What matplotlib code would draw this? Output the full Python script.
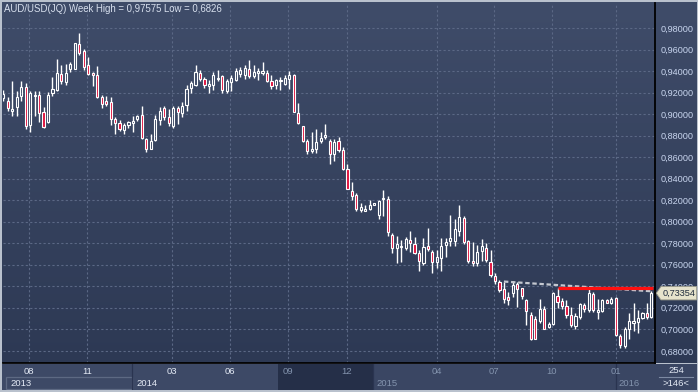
import numpy as np
import matplotlib.pyplot as plt
from matplotlib.patches import Rectangle, Polygon

# weekly AUD/USD candles
opens = [0.9150, 0.9126, 0.9032, 0.9070, 0.9169, 0.9251, 0.8898, 0.9166, 0.9182, 0.9023,
         0.8923, 0.9194, 0.9229, 0.9369, 0.9297, 0.9422, 0.9422, 0.9656, 0.9584, 0.9453,
         0.9382, 0.9366, 0.9163, 0.9126, 0.9116, 0.8954, 0.8914, 0.8851, 0.8898, 0.8914,
         0.8951, 0.8992, 0.8767, 0.8680, 0.8758, 0.8945, 0.9057, 0.8975, 0.8887, 0.9055,
         0.9011, 0.9086, 0.9242, 0.9273, 0.9386, 0.9323, 0.9261, 0.9267, 0.9323, 0.9355,
         0.9220, 0.9298, 0.9320, 0.9376, 0.9361, 0.9423, 0.9355, 0.9386, 0.9386, 0.9386,
         0.9305, 0.9267, 0.9305, 0.9283, 0.9323, 0.9361, 0.9011, 0.8893, 0.8752, 0.8659,
         0.8674, 0.8752, 0.8784, 0.8752, 0.8634, 0.8752, 0.8665, 0.8487, 0.8290, 0.8247,
         0.8106, 0.8103, 0.8119, 0.8159, 0.8066, 0.8215, 0.8216, 0.7879, 0.7754, 0.7769,
         0.7754, 0.7832, 0.7794, 0.7707, 0.7613, 0.7776, 0.7723, 0.7623, 0.7660, 0.7785,
         0.7822, 0.7822, 0.7916, 0.8035, 0.7822, 0.7635, 0.7613, 0.7729, 0.7760, 0.7629,
         0.7497, 0.7444, 0.7375, 0.7304, 0.7335, 0.7419, 0.7381, 0.7272, 0.7132, 0.7092,
         0.7079, 0.7188, 0.7023, 0.7045, 0.7313, 0.7266, 0.7216, 0.7132, 0.7029, 0.7110,
         0.7226, 0.7179, 0.7329, 0.7163, 0.7170, 0.7272, 0.7241, 0.7294, 0.6936, 0.6845,
         0.7001, 0.7060, 0.7070, 0.7101, 0.7148, 0.7117]
highs = [0.9226, 0.9163, 0.9304, 0.9219, 0.9313, 0.9288, 0.9219, 0.9219, 0.9219, 0.9063,
         0.9210, 0.9350, 0.9516, 0.9460, 0.9469, 0.9485, 0.9666, 0.9753, 0.9609, 0.9531,
         0.9391, 0.9444, 0.9179, 0.9173, 0.9157, 0.8970, 0.8945, 0.8914, 0.8939, 0.8985,
         0.8995, 0.9079, 0.8776, 0.8820, 0.8995, 0.9070, 0.9079, 0.9049, 0.9080, 0.9080,
         0.9117, 0.9267, 0.9305, 0.9454, 0.9414, 0.9345, 0.9314, 0.9392, 0.9408, 0.9367,
         0.9323, 0.9367, 0.9429, 0.9439, 0.9454, 0.9501, 0.9461, 0.9429, 0.9486, 0.9408,
         0.9367, 0.9330, 0.9345, 0.9361, 0.9398, 0.9376, 0.9105, 0.8893, 0.8768, 0.8837,
         0.8862, 0.8830, 0.8908, 0.8768, 0.8768, 0.8790, 0.8696, 0.8534, 0.8372, 0.8269,
         0.8175, 0.8153, 0.8206, 0.8175, 0.8206, 0.8294, 0.8237, 0.7894, 0.7872, 0.7832,
         0.7854, 0.7910, 0.7854, 0.7738, 0.7848, 0.7941, 0.7738, 0.7738, 0.7848, 0.7848,
         0.8066, 0.8028, 0.8159, 0.8050, 0.7832, 0.7816, 0.7785, 0.7841, 0.7801, 0.7738,
         0.7522, 0.7459, 0.7444, 0.7350, 0.7450, 0.7444, 0.7388, 0.7282, 0.7157, 0.7126,
         0.7282, 0.7219, 0.7070, 0.7344, 0.7388, 0.7294, 0.7272, 0.7210, 0.7148, 0.7247,
         0.7241, 0.7375, 0.7350, 0.7282, 0.7282, 0.7282, 0.7304, 0.7304, 0.6961, 0.7023,
         0.7148, 0.7241, 0.7179, 0.7163, 0.7241, 0.7357]
lows = [0.9126, 0.9026, 0.8985, 0.8982, 0.9120, 0.8858, 0.8839, 0.8985, 0.8923, 0.8876,
        0.8914, 0.9173, 0.9219, 0.9282, 0.9272, 0.9391, 0.9416, 0.9547, 0.9413, 0.9360,
        0.9266, 0.9148, 0.9057, 0.9079, 0.8901, 0.8814, 0.8845, 0.8820, 0.8876, 0.8839,
        0.8939, 0.8767, 0.8651, 0.8673, 0.8751, 0.8901, 0.8948, 0.8893, 0.8874, 0.8908,
        0.8971, 0.9033, 0.9199, 0.9261, 0.9305, 0.9242, 0.9199, 0.9227, 0.9305, 0.9199,
        0.9199, 0.9211, 0.9305, 0.9345, 0.9323, 0.9336, 0.9336, 0.9314, 0.9361, 0.9298,
        0.9236, 0.9230, 0.9227, 0.9267, 0.9236, 0.9018, 0.8908, 0.8737, 0.8634, 0.8643,
        0.8637, 0.8730, 0.8768, 0.8535, 0.8565, 0.8652, 0.8478, 0.8300, 0.8206, 0.8103,
        0.8088, 0.8097, 0.8106, 0.8159, 0.8028, 0.8050, 0.7872, 0.7707, 0.7613, 0.7629,
        0.7738, 0.7723, 0.7698, 0.7542, 0.7598, 0.7729, 0.7520, 0.7567, 0.7542, 0.7676,
        0.7779, 0.7779, 0.7863, 0.7791, 0.7613, 0.7592, 0.7592, 0.7635, 0.7623, 0.7489,
        0.7419, 0.7344, 0.7241, 0.7226, 0.7304, 0.7210, 0.7282, 0.7039, 0.6898, 0.6908,
        0.7060, 0.7001, 0.7014, 0.7039, 0.7194, 0.7188, 0.7107, 0.7023, 0.7001, 0.7095,
        0.7163, 0.7157, 0.7163, 0.7095, 0.7157, 0.7241, 0.7232, 0.6939, 0.6826, 0.6826,
        0.6914, 0.6982, 0.6970, 0.7095, 0.7095, 0.7101]
closes = [0.9190, 0.9057, 0.9051, 0.9163, 0.9257, 0.8892, 0.9201, 0.9182, 0.9010, 0.8883,
          0.9182, 0.9235, 0.9385, 0.9307, 0.9382, 0.9463, 0.9666, 0.9569, 0.9438, 0.9375,
          0.9360, 0.9163, 0.9095, 0.9095, 0.8954, 0.8917, 0.8861, 0.8898, 0.8929, 0.8939,
          0.8985, 0.8776, 0.8673, 0.8751, 0.8954, 0.9032, 0.8970, 0.8920, 0.9058, 0.9024,
          0.9080, 0.9236, 0.9289, 0.9392, 0.9330, 0.9273, 0.9277, 0.9361, 0.9336, 0.9227,
          0.9305, 0.9336, 0.9398, 0.9408, 0.9429, 0.9355, 0.9392, 0.9398, 0.9401, 0.9305,
          0.9261, 0.9314, 0.9320, 0.9336, 0.9367, 0.9024, 0.8918, 0.8752, 0.8659, 0.8674,
          0.8743, 0.8777, 0.8805, 0.8628, 0.8743, 0.8665, 0.8487, 0.8309, 0.8237, 0.8122,
          0.8134, 0.8122, 0.8159, 0.8172, 0.8197, 0.8219, 0.7904, 0.7754, 0.7794, 0.7779,
          0.7838, 0.7801, 0.7707, 0.7635, 0.7769, 0.7748, 0.7623, 0.7676, 0.7776, 0.7816,
          0.7848, 0.7932, 0.8041, 0.7810, 0.7635, 0.7613, 0.7723, 0.7770, 0.7645, 0.7504,
          0.7450, 0.7366, 0.7282, 0.7272, 0.7413, 0.7375, 0.7310, 0.7170, 0.6908, 0.6914,
          0.7188, 0.7007, 0.7045, 0.7341, 0.7257, 0.7216, 0.7132, 0.7039, 0.7126, 0.7232,
          0.7185, 0.7335, 0.7179, 0.7179, 0.7272, 0.7245, 0.7282, 0.6945, 0.6858, 0.7001,
          0.7076, 0.7076, 0.7107, 0.7148, 0.7117, 0.73354]

month_labels = ['08', '11', '03', '06', '09', '12', '04', '07', '10', '01']
month_pos = [5.7, 18.7, 37.7, 50.7, 63.7, 76.9, 97.0, 109.8, 122.7, 137.1]
month_bright = [True, True, True, True, False, False, False, False, False, False]
year_labels = ['2013', '2014', '2015', '2016']
year_pos = [1.5, 29.7, 83.6, 137.7]
year_bright = [True, True, False, False]
y_ticks = [0.68, 0.70, 0.72, 0.74, 0.76, 0.78, 0.80, 0.82, 0.84, 0.86, 0.88, 0.90,
           0.92, 0.94, 0.96, 0.98]

trend_x = [112, 145.3]
trend_y = [0.7444, 0.7353]
resist_x = [124, 145.3]
resist_y = [0.7385, 0.7385]
last_price = 0.73354

W, H = 698, 392
BG_TOP = '#3f4c69'
BG_BOT = '#2d3954'
RED = '#e0103c'
TXT = '#c8d5ee'


def px_axes(fig, x0, y0, x1, y1):
    return fig.add_axes([x0 / W, 1 - y1 / H, (x1 - x0) / W, (y1 - y0) / H])


def main():
    plt.rcParams['font.family'] = ['Liberation Sans', 'DejaVu Sans']
    fig = plt.figure(figsize=(W / 100, H / 100), dpi=100, facecolor='#b9c1cd')

    # gradient background behind plot + price axis
    bg = px_axes(fig, 2, 2, 697, 363)
    grad = np.linspace(0, 1, 256).reshape(-1, 1)
    from matplotlib.colors import LinearSegmentedColormap
    cmap = LinearSegmentedColormap.from_list('bg', [BG_TOP, BG_BOT])
    bg.imshow(grad, aspect='auto', cmap=cmap, extent=[0, 1, 1, 0])
    bg.set_axis_off()

    ax = px_axes(fig, 3, 3, 655, 363)
    ax.patch.set_alpha(0)
    xmin, xmax = -0.07, 145.8
    ax.set_xlim(xmin, xmax)
    ax.set_ylim(0.66868, 1.00337)

    # grid
    for y in y_ticks:
        ax.axhline(y, color='#5b6885', lw=0.8, dashes=(2, 2), zorder=1)
    for x in month_pos:
        ax.axvline(x, color='#5b6885', lw=0.8, dashes=(2, 2), zorder=1)

    # candles
    for i in range(len(opens)):
        o, h, l, c = opens[i], highs[i], lows[i], closes[i]
        top, bot = max(o, c), min(o, c)
        if top - bot < 0.0006:
            top = bot + 0.0006
        ax.vlines(i, top, max(h, top), color='white', lw=1, zorder=3)
        ax.vlines(i, min(l, bot), bot, color='white', lw=1, zorder=3)
        face = RED if c < o else 'none'
        ax.add_patch(Rectangle((i - 0.24, bot), 0.48, top - bot, facecolor=face,
                               edgecolor='white', lw=0.8, zorder=4))

    # trend line and resistance line
    ax.plot(trend_x, trend_y, color='#c4c8d0', lw=1.6, dashes=(2, 1.2), zorder=5)
    ax.plot(resist_x, resist_y, color='#ff1010', lw=2.3, solid_capstyle='butt', zorder=6)

    # spines / ticks
    for s in ['left', 'top']:
        ax.spines[s].set_visible(False)
    for s in ['right', 'bottom']:
        ax.spines[s].set_color('black')
        ax.spines[s].set_linewidth(1.3)
    ax.set_xticks([])
    ax.yaxis.tick_right()
    ax.set_yticks(y_ticks)
    ax.set_yticklabels([f'{v:.5f}'.replace('.', ',') for v in y_ticks])
    ax.tick_params(axis='y', length=0, pad=4, labelsize=6.6, labelcolor=TXT)

    # last price marker
    tr = ax.get_yaxis_transform()
    dy = 0.0062
    ax.add_patch(Polygon([[1.002, last_price], [1.009, last_price + dy],
                          [1.064, last_price + dy], [1.064, last_price - dy],
                          [1.009, last_price - dy]], closed=True, transform=tr,
                         facecolor='#e6e3cc', edgecolor='#9a9a8a', lw=0.6,
                         clip_on=False, zorder=10))
    ax.text(1.037, last_price, f'{last_price:.5f}'.replace('.', ','), transform=tr,
            ha='center', va='center', fontsize=6.6, color='#1e2a3c', zorder=11,
            clip_on=False)

    # time axis panel
    bx = px_axes(fig, 2, 364, 655, 390)
    bx.set_xlim(xmin - 0.22, xmax)
    bx.set_ylim(0, 1)
    bx.set_axis_off()
    bx.add_patch(Rectangle((xmin - 1, 0), 62.5 - xmin, 1, facecolor='#3d4966', lw=0))
    bx.add_patch(Rectangle((61.5, 0), 21.2, 1, facecolor='#252f48', lw=0))
    bx.add_patch(Rectangle((82.7, 0), 70, 1, facecolor='#3a4663', lw=0))
    bx.add_patch(Rectangle((0.6, 0.02), 28.2, 0.47, facecolor='none',
                           edgecolor='#5d6983', lw=0.9))
    for x in [28.8, 82.7, 137.1]:
        bx.plot([x, x], [0, 1], color='#2a3450', lw=0.9)
    for lab, x, b in zip(month_labels, month_pos, month_bright):
        bx.text(x, 0.7, lab, ha='center', va='center', fontsize=6.8,
                color='#e4eaf5' if b else '#8393ad')
    for lab, x, b in zip(year_labels, year_pos, year_bright):
        bx.text(x, 0.25, lab, ha='left', va='center', fontsize=6.8,
                color='#e4eaf5' if b else '#8393ad')

    # bottom right info box
    rb = px_axes(fig, 655, 364, 697, 390)
    rb.set_xlim(0, 1)
    rb.set_ylim(0, 1)
    rb.set_axis_off()
    rb.add_patch(Rectangle((0, 0), 1, 1, facecolor='#3a4663', lw=0))
    rb.plot([0.1, 0.9], [0.5, 0.5], color='#7d8aa3', lw=0.8)
    rb.text(0.5, 0.76, '254', ha='center', va='center', fontsize=6.8, color='#e4eaf5')
    rb.text(0.5, 0.24, '>146<', ha='center', va='center', fontsize=6.8, color='#e4eaf5')

    fig.text(4 / W, 1 - 8.5 / H, 'AUD/USD(JQ) Week High = 0,97575 Low = 0,6826',
             ha='left', va='center', fontsize=6.9, color='#d8e0ee')

    plt.savefig('out.png', dpi=100, facecolor=fig.get_facecolor())


if __name__ == "__main__":
    main()
